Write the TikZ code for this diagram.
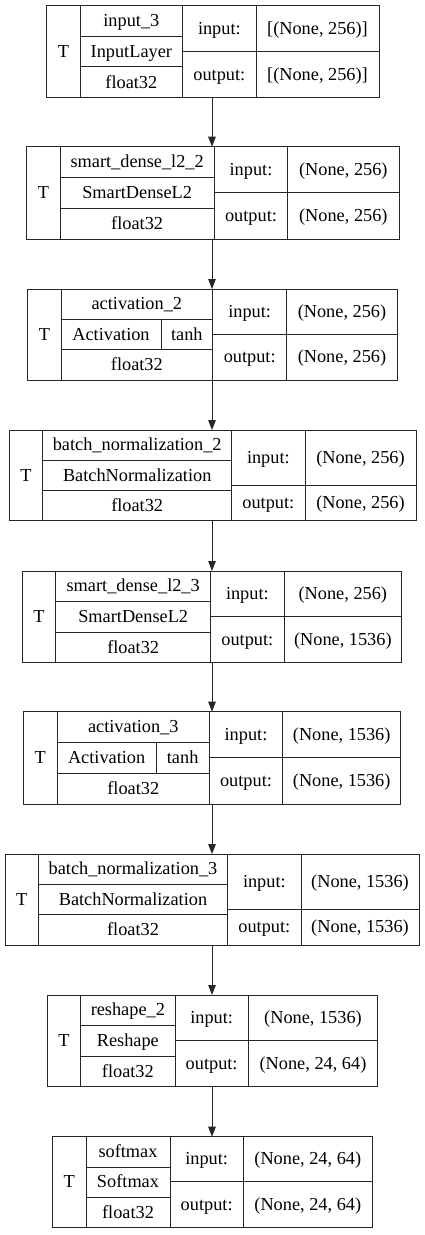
\documentclass[tikz,border=0pt]{standalone}
\usepackage{fontspec}
\setmainfont{Liberation Serif}
\usetikzlibrary{arrows.meta}
\tikzset{
  ln/.style={draw=black!85, line width=1pt},
  lbox/.style={ln, rectangle, inner sep=0pt, outer sep=0pt},
  txt/.style={inner sep=0pt, anchor=center, text height=15pt, text depth=3.6pt,
    font=\fontsize{18.3pt}{22pt}\selectfont},
  arr/.style={ln, -{Triangle[length=10pt,width=7.5pt]}}
}
% #1 id, #2 left, #3 T divider, #4 name right, #5 label right, #6 right, #7 top, #8 bottom, #9 mid
\newcommand{\lyr}[9]{%
  \node[lbox, anchor=north west, minimum width={#6-#2}, minimum height={#8-#7}] (#1) at (#2,#7) {};
  \pgfmathsetmacro\lyrA{#7+(#8-#7)/3}%
  \pgfmathsetmacro\lyrB{#7+2*(#8-#7)/3}%
  \draw[ln] (#3,#7) -- (#3,#8);
  \draw[ln] (#4,#7) -- (#4,#8);
  \draw[ln] (#5,#7) -- (#5,#8);
  \draw[ln] (#3,\lyrA) -- (#4,\lyrA);
  \draw[ln] (#3,\lyrB) -- (#4,\lyrB);
  \draw[ln] (#4,#9) -- (#6,#9);
  \coordinate (#1-T) at ({(#2+#3)/2},{(#7+#8)/2});
  \coordinate (#1-n) at ({(#3+#4)/2},{(#7+\lyrA)/2});
  \coordinate (#1-c) at ({(#3+#4)/2},{(\lyrA+\lyrB)/2});
  \coordinate (#1-d) at ({(#3+#4)/2},{(\lyrB+#8)/2});
  \coordinate (#1-il) at ({(#4+#5)/2},{(#7+#9)/2});
  \coordinate (#1-ol) at ({(#4+#5)/2},{(#9+#8)/2});
  \coordinate (#1-iv) at ({(#5+#6)/2},{(#7+#9)/2});
  \coordinate (#1-ov) at ({(#5+#6)/2},{(#9+#8)/2});
}
% #1 id, #2 name, #3 class, #4 input value, #5 output value
\newcommand{\lyrtxt}[5]{%
  \node[txt] (#1-Tt) at (#1-T) {T};
  \node[txt] (#1-nt) at (#1-n) {#2};
  \node[txt] (#1-ct) at (#1-c) {#3};
  \node[txt] (#1-dt) at (#1-d) {float32};
  \node[txt] (#1-ilt) at (#1-il) {input:};
  \node[txt] (#1-olt) at (#1-ol) {output:};
  \node[txt] (#1-ivt) at (#1-iv) {#4};
  \node[txt] (#1-ovt) at (#1-ov) {#5};
}
\begin{document}
\begin{tikzpicture}[x=1pt, y=-1pt]
\useasboundingbox[fill=white] (0,0) rectangle (425,1235);
\coordinate (ax) at (212,0);

\lyr{b1}{46.7}{80}{182.7}{256}{379}{5.3}{97.7}{51.7}
\lyrtxt{b1}{input\_3}{InputLayer}{[(None, 256)]}{[(None, 256)]}

\lyr{b2}{26.7}{60}{214.3}{287.7}{399}{146.7}{239}{192.7}
\lyrtxt{b2}{smart\_dense\_l2\_2}{SmartDenseL2}{(None, 256)}{(None, 256)}

\lyr{b3}{27.7}{61}{212.7}{286.7}{397.3}{289}{380}{334.3}
\lyrtxt{b3}{activation\_2}{}{(None, 256)}{(None, 256)}
\draw[ln] (161,319.3) -- (161,349.7);
\node[txt] (b3-act) at (111,334.5) {Activation};
\node[txt] (b3-tanh) at (186.85,334.5) {tanh};

\lyr{b4}{9.3}{42.7}{231.7}{305}{416}{430}{520.7}{485}
\lyrtxt{b4}{batch\_normalization\_2}{BatchNormalization}{(None, 256)}{(None, 256)}

\lyr{b5}{22.3}{55.7}{210.7}{284}{401.7}{571}{662.7}{616.7}
\lyrtxt{b5}{smart\_dense\_l2\_3}{SmartDenseL2}{(None, 256)}{(None, 1536)}

\lyr{b6}{23.3}{57.3}{209.3}{282.7}{400.7}{711.7}{804}{757.3}
\lyrtxt{b6}{activation\_3}{}{(None, 1536)}{(None, 1536)}
\draw[ln] (156,742.5) -- (156,773.2);
\node[txt] (b6-act) at (106.65,757.85) {Activation};
\node[txt] (b6-tanh) at (182.65,757.85) {tanh};

\lyr{b7}{5}{38.3}{227.7}{301}{419}{854}{945}{909}
\lyrtxt{b7}{batch\_normalization\_3}{BatchNormalization}{(None, 1536)}{(None, 1536)}

\lyr{b8}{47.3}{80.7}{175}{248.3}{377.7}{995}{1086.7}{1040.7}
\lyrtxt{b8}{reshape\_2}{Reshape}{(None, 1536)}{(None, 24, 64)}

\lyr{b9}{52.3}{86}{170}{243.3}{372.3}{1136.7}{1227.7}{1181.7}
\lyrtxt{b9}{softmax}{Softmax}{(None, 24, 64)}{(None, 24, 64)}

\draw[arr] (b1.south -| ax) -- (b2.north -| ax);
\draw[arr] (b2.south -| ax) -- (b3.north -| ax);
\draw[arr] (b3.south -| ax) -- (b4.north -| ax);
\draw[arr] (b4.south -| ax) -- (b5.north -| ax);
\draw[arr] (b5.south -| ax) -- (b6.north -| ax);
\draw[arr] (b6.south -| ax) -- (b7.north -| ax);
\draw[arr] (b7.south -| ax) -- (b8.north -| ax);
\draw[arr] (b8.south -| ax) -- (b9.north -| ax);
\end{tikzpicture}
\end{document}
